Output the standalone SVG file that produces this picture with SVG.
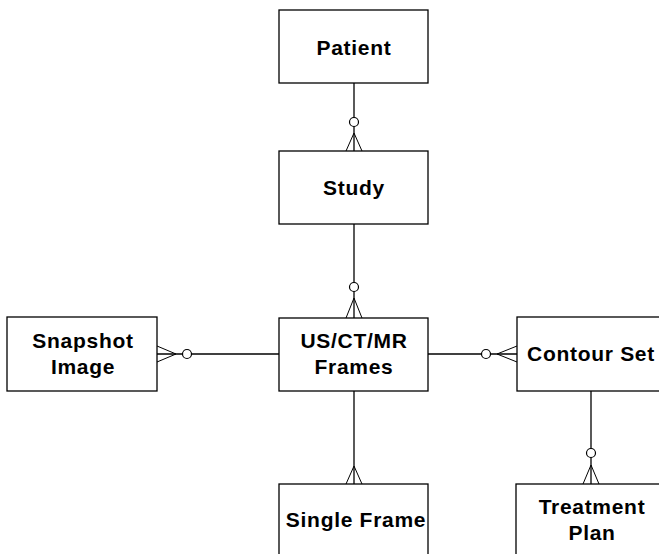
<svg xmlns="http://www.w3.org/2000/svg" width="659" height="554" viewBox="0 0 659 554">
<style>
.box{fill:#fff;stroke:#000;stroke-width:1.3}
.ln{fill:none;stroke:#000;stroke-width:1.3}
.ft{fill:none;stroke:#000;stroke-width:1}
.o{fill:#fff;stroke:#000;stroke-width:1.2}
text{font-family:"Liberation Sans",Arial,sans-serif;font-weight:bold;font-size:21px;letter-spacing:0.7px;fill:#000;text-anchor:middle}
</style>
<rect width="659" height="554" fill="#fff"/>
<g id="connectors">
  <line class="ln" x1="354" y1="83" x2="354" y2="151"/>
  <circle class="o" cx="354" cy="122" r="4.5"/>
  <path class="ft" d="M346 151 L354 133 L362 151"/>
  <line class="ln" x1="354" y1="224" x2="354" y2="318"/>
  <circle class="o" cx="354" cy="287" r="4.5"/>
  <path class="ft" d="M346 318 L354 298 L362 318"/>
  <line class="ln" x1="157" y1="354" x2="279" y2="354"/>
  <circle class="o" cx="187" cy="354" r="4.5"/>
  <path class="ft" d="M157 346 L176 354 L157 362"/>
  <line class="ln" x1="428" y1="354" x2="517" y2="354"/>
  <circle class="o" cx="486" cy="354" r="4.5"/>
  <path class="ft" d="M517 346 L497 354 L517 362"/>
  <line class="ln" x1="354" y1="391" x2="354" y2="484"/>
  <path class="ft" d="M346 484 L354 466 L362 484"/>
  <line class="ln" x1="591" y1="391" x2="591" y2="484"/>
  <circle class="o" cx="591" cy="453" r="4.5"/>
  <path class="ft" d="M583 484 L591 465 L599 484"/>
</g>
<g id="patient"><rect class="box" x="279" y="10" width="149" height="73"/><text x="354" y="55">Patient</text></g>
<g id="study"><rect class="box" x="279" y="151" width="149" height="73"/><text x="354" y="195">Study</text></g>
<g id="snapshot"><rect class="box" x="7" y="317" width="150" height="74"/><text x="83" y="348">Snapshot</text><text x="83" y="374">Image</text></g>
<g id="frames"><rect class="box" x="279" y="318" width="149" height="73"/><text x="354" y="348">US/CT/MR</text><text x="354" y="374">Frames</text></g>
<g id="contour"><rect class="box" x="517" y="317" width="150" height="74"/><text x="591" y="361">Contour Set</text></g>
<g id="single"><rect class="box" x="279" y="484" width="149" height="80"/><text x="356" y="527">Single Frame</text></g>
<g id="treatment"><rect class="box" x="516" y="484" width="150" height="80"/><text x="592" y="514">Treatment</text><text x="592" y="540">Plan</text></g>
</svg>
